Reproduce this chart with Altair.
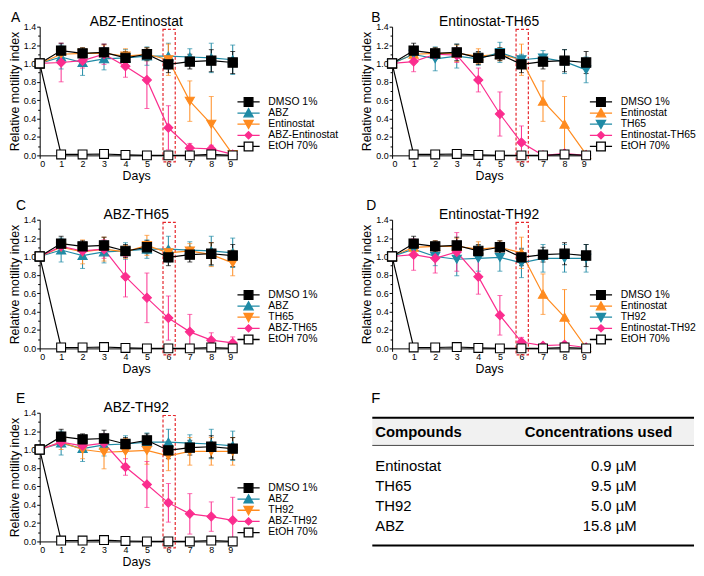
import altair as alt
import pandas as pd

FONT = "Liberation Sans"

DAYS = [0, 1, 2, 3, 4, 5, 6, 7, 8, 9]
Y_TICKS = [0.0, 0.2, 0.4, 0.6, 0.8, 1.0, 1.2, 1.4]
Y_MINOR = [0.1, 0.3, 0.5, 0.7, 0.9, 1.1, 1.3]

DMSO = [1.00, 1.14, 1.11, 1.12, 1.06, 1.10, 0.99, 1.02, 1.03, 1.01]
DMSO_ERR = [0.0, 0.08, 0.06, 0.09, 0.07, 0.07, 0.09, 0.08, 0.12, 0.12]
ABZ = [1.00, 1.07, 1.01, 1.05, 1.06, 1.08, 1.08, 1.07, 1.06, 1.04]
ABZ_ERR = [0.0, 0.13, 0.14, 0.12, 0.09, 0.10, 0.14, 0.09, 0.16, 0.16]
ENT = [1.00, 1.10, 1.11, 1.11, 1.08, 1.10, 1.04, 0.59, 0.34, 0.01]
ENT_ERR = [0.0, 0.08, 0.06, 0.09, 0.08, 0.07, 0.17, 0.22, 0.30, 0.0]
TH65 = [1.00, 1.10, 1.05, 1.08, 1.05, 1.12, 1.04, 1.06, 1.02, 0.93]
TH65_ERR = [0.0, 0.06, 0.13, 0.13, 0.07, 0.11, 0.06, 0.08, 0.13, 0.14]
TH92 = [1.00, 1.08, 1.00, 0.97, 0.98, 0.99, 0.93, 0.98, 0.98, 0.98]
TH92_ERR = [0.0, 0.08, 0.10, 0.18, 0.14, 0.15, 0.16, 0.15, 0.15, 0.15]
ABZ_ENT = [1.00, 1.01, 1.03, 1.10, 0.97, 0.82, 0.30, 0.08, 0.07, 0.01]
ABZ_ENT_ERR = [0.0, 0.21, 0.08, 0.11, 0.12, 0.31, 0.24, 0.05, 0.04, 0.0]
ENT_TH65 = [1.00, 1.02, 1.10, 1.09, 0.82, 0.45, 0.14, 0.00, 0.02, 0.00]
ENT_TH65_ERR = [0.0, 0.11, 0.05, 0.08, 0.13, 0.24, 0.18, 0.01, 0.02, 0.0]
ABZ_TH65 = [1.00, 1.11, 1.06, 1.08, 0.78, 0.55, 0.33, 0.18, 0.09, 0.06]
ABZ_TH65_ERR = [0.0, 0.06, 0.06, 0.10, 0.22, 0.27, 0.24, 0.19, 0.08, 0.065]
ENT_TH92 = [1.00, 1.02, 0.98, 1.05, 0.78, 0.36, 0.07, 0.03, 0.04, 0.01]
ENT_TH92_ERR = [0.0, 0.17, 0.16, 0.21, 0.19, 0.215, 0.05, 0.02, 0.03, 0.01]
ABZ_TH92 = [1.00, 1.08, 1.04, 1.07, 0.81, 0.62, 0.42, 0.30, 0.27, 0.23]
ABZ_TH92_ERR = [0.0, 0.05, 0.07, 0.10, 0.09, 0.25, 0.21, 0.22, 0.16, 0.25]
ETOH = [1.00, 0.01, 0.01, 0.015, 0.005, 0.0, 0.0, 0.0, 0.01, 0.0]
ETOH_ERR = [0.0, 0.0, 0.0, 0.0, 0.0, 0.0, 0.0, 0.0, 0.0, 0.0]

COMPOUNDS = ["Entinostat", "TH65", "TH92", "ABZ"]
CONCENTRATIONS = ["0.9 \u00b5M", "9.5 \u00b5M", "5.0 \u00b5M", "15.8 \u00b5M"]
TABLE_HEADERS = ["Compounds", "Concentrations used"]

HIGHLIGHT_DAY = [6]

BLACK = "#000000"
TEAL = "#1f8aa5"
ORANGE = "#ff8b1f"
PINK = "#fb2d8e"
RED = "#e5262b"

# legend glyphs (unit = sqrt(64)/2 = 4 px)
LEG_SQ = "M-2.8,0H-1.1M1.1,0H2.8M-1.1,-1.1H1.1V1.1H-1.1Z"
LEG_UP = "M-2.8,0H2.8M0,-1.1L1.15,0.95L-1.15,0.95Z"
LEG_DN = "M-2.8,0H2.8M0,1.1L1.15,-0.95L-1.15,-0.95Z"
LEG_DI = "M-2.8,0H2.8M-0.9,0L0,-0.9L0.9,0L0,0.9Z"

ROLE = {
    "ctrl": dict(shape="square", size=88, hollow=False, leg=LEG_SQ, z=3),
    "up": dict(shape="triangle-up", size=80, hollow=False, leg=LEG_UP, z=0),
    "down": dict(shape="triangle-down", size=80, hollow=False, leg=LEG_DN, z=1),
    "combo": dict(shape="diamond", size=55, hollow=False, leg=LEG_DI, z=2),
    "etoh": dict(shape="square", size=78, hollow=True, leg=LEG_SQ, z=4),
}

W, H = 195, 130
WB = 196


def panel(letter, title, series, width, letter_dx, letter_dy):
    names = [s[0] for s in series]
    colors = [s[3] for s in series]
    fills = ["#ffffff" if ROLE[s[4]]["hollow"] else s[3] for s in series]
    shapes = [ROLE[s[4]]["shape"] for s in series]
    sizes = [ROLE[s[4]]["size"] for s in series]
    paths = [ROLE[s[4]]["leg"] for s in series]
    recs = []
    for name, vals, errs, color, role in series:
        for d, v, e in zip(DAYS, vals, errs):
            recs.append({"series": name, "day": d, "v": v, "err": e,
                         "lo": v - e, "hi": v + e, "z": ROLE[role]["z"]})
    df = pd.DataFrame(recs).sort_values(["z", "day"], kind="stable")
    base = alt.Chart(df)
    errdf = df[df["err"] > 0]
    ebase = alt.Chart(errdf)

    xs = alt.Scale(domain=[0, 9], nice=False, zero=False)
    ys = alt.Scale(domain=[0, 1.4], nice=False)
    xax = alt.Axis(values=DAYS, title="Days", format="d", titlePadding=1, labelPadding=1)
    yax = alt.Axis(values=Y_TICKS, title="Relative motility index", format=".1f",
                   titlePadding=2, labelPadding=1, orient="left")
    ymin = alt.Axis(values=Y_MINOR, title=None, labels=False, domain=False,
                    tickSize=2, orient="left")

    col = alt.Color("series:N", scale=alt.Scale(domain=names, range=colors), legend=None)

    box = pd.DataFrame({"x": [d - 0.25 for d in HIGHLIGHT_DAY],
                        "x2": [d + 0.32 for d in HIGHLIGHT_DAY],
                        "y": [-0.07], "y2": [1.37]})
    rect = alt.Chart(box).mark_rect(fillOpacity=0, stroke=RED, strokeDash=[3, 2],
                                    strokeWidth=1.2).encode(
        x=alt.X("x:Q", scale=xs, axis=xax), x2="x2:Q",
        y=alt.Y("y:Q", scale=ys, axis=ymin), y2="y2:Q")

    rules = ebase.mark_rule(strokeWidth=1).encode(
        x=alt.X("day:Q", scale=xs, axis=xax),
        y=alt.Y("lo:Q", scale=ys, axis=None), y2="hi:Q", color=col)
    cap_lo = ebase.mark_tick(orient="horizontal", size=5, thickness=1).encode(
        x=alt.X("day:Q", scale=xs, axis=xax),
        y=alt.Y("lo:Q", scale=ys, axis=None), color=col)
    cap_hi = ebase.mark_tick(orient="horizontal", size=5, thickness=1).encode(
        x=alt.X("day:Q", scale=xs, axis=xax),
        y=alt.Y("hi:Q", scale=ys, axis=None), color=col)
    lines = base.mark_line(strokeWidth=1.2).encode(
        x=alt.X("day:Q", scale=xs, axis=xax),
        y=alt.Y("v:Q", scale=ys, axis=None), color=col, detail="series:N")
    pts = base.mark_point(filled=True, opacity=1, strokeWidth=1.1).encode(
        x=alt.X("day:Q", scale=xs, axis=xax),
        y=alt.Y("v:Q", scale=ys, axis=yax),
        shape=alt.Shape("series:N", scale=alt.Scale(domain=names, range=shapes), legend=None),
        fill=alt.Fill("series:N", scale=alt.Scale(domain=names, range=fills), legend=None),
        stroke=alt.Stroke("series:N", scale=alt.Scale(domain=names, range=colors), legend=None),
        size=alt.Size("series:N", scale=alt.Scale(domain=names, range=sizes), legend=None),
    )

    # legend drawn as its own layer: one row per series on a point scale
    legdf = pd.DataFrame({"series": names})
    leg_y = alt.Y("series:N", scale=alt.Scale(type="point", domain=names, range=[76, 121],
                                              padding=0), axis=None)
    leg_sym = alt.Chart(legdf).mark_point(filled=True, opacity=1, strokeWidth=1.3,
                                          size=64).encode(
        x=alt.value(211), y=leg_y,
        shape=alt.Shape("series:N", scale=alt.Scale(domain=names, range=paths), legend=None),
        fill=alt.Fill("series:N", scale=alt.Scale(domain=names, range=fills), legend=None),
        stroke=alt.Stroke("series:N", scale=alt.Scale(domain=names, range=colors), legend=None),
    )
    leg_txt = alt.Chart(legdf).mark_text(font=FONT, fontSize=10.5, align="left",
                                         baseline="middle", color="black").encode(
        x=alt.value(231), y=leg_y, text="series:N")

    lab = alt.Chart(pd.DataFrame({"t": [letter]})).mark_text(
        font=FONT, fontSize=14, align="left", baseline="alphabetic", color="black").encode(
        text="t:N", x=alt.value(letter_dx), y=alt.value(letter_dy))
    ttl = alt.Chart(pd.DataFrame({"t": [title]})).mark_text(
        font=FONT, fontSize=14, align="center", baseline="alphabetic", color="black").encode(
        text="t:N", x=alt.value(width / 2), y=alt.value(-1))

    layer = alt.layer(rect, rules, cap_lo, cap_hi, lines, pts, leg_sym, leg_txt, lab,
                      ttl).resolve_scale(
        color="independent", fill="independent", stroke="independent",
        shape="independent", size="independent", y="independent").resolve_axis(
        y="independent")
    return layer.properties(width=width, height=H)


def table_panel():
    tdf = pd.DataFrame({"compound": COMPOUNDS, "conc": CONCENTRATIONS})
    ys = alt.Scale(type="point", domain=COMPOUNDS, range=[54, 114], padding=0)
    hdr = pd.DataFrame({"h": TABLE_HEADERS})
    bg = alt.Chart(pd.DataFrame({"k": [0]})).mark_rect(color="#f1f1f1").encode(
        x=alt.value(-20), x2=alt.value(305), y=alt.value(5), y2=alt.value(33))
    top = alt.Chart(pd.DataFrame({"k": [0]})).mark_rule(color="black", strokeWidth=2).encode(
        x=alt.value(-20), x2=alt.value(305), y=alt.value(5))
    mid = alt.Chart(pd.DataFrame({"k": [0]})).mark_rule(color="#444444", strokeWidth=1).encode(
        x=alt.value(-20), x2=alt.value(305), y=alt.value(33))
    bot = alt.Chart(pd.DataFrame({"k": [0]})).mark_rule(color="black", strokeWidth=2).encode(
        x=alt.value(-20), x2=alt.value(305), y=alt.value(134))
    h1 = alt.Chart(hdr.iloc[[0]]).mark_text(font=FONT, fontSize=15, fontWeight="bold",
                                           align="left", baseline="middle", color="black").encode(
        text="h:N", x=alt.value(-17), y=alt.value(19))
    h2 = alt.Chart(hdr.iloc[[1]]).mark_text(font=FONT, fontSize=15, fontWeight="bold",
                                           align="left", baseline="middle", color="black").encode(
        text="h:N", x=alt.value(134), y=alt.value(19))
    names = alt.Chart(tdf).mark_text(font=FONT, fontSize=15, align="left", baseline="middle",
                                     color="black").encode(
        text="compound:N", x=alt.value(-17), y=alt.Y("compound:N", scale=ys, axis=None))
    concs = alt.Chart(tdf).mark_text(font=FONT, fontSize=15, align="right", baseline="middle",
                                     color="black").encode(
        text="conc:N", x=alt.value(247), y=alt.Y("compound:N", scale=ys, axis=None))
    lab = alt.Chart(pd.DataFrame({"t": ["F"]})).mark_text(
        font=FONT, fontSize=15, align="left", baseline="alphabetic", color="black").encode(
        text="t:N", x=alt.value(-21), y=alt.value(-10))
    return alt.layer(bg, top, mid, bot, h1, h2, names, concs, lab).properties(width=WB, height=H)


A = panel("A", "ABZ-Entinostat", [
    ("DMSO 1%", DMSO, DMSO_ERR, BLACK, "ctrl"),
    ("ABZ", ABZ, ABZ_ERR, TEAL, "up"),
    ("Entinostat", ENT, ENT_ERR, ORANGE, "down"),
    ("ABZ-Entinostat", ABZ_ENT, ABZ_ENT_ERR, PINK, "combo"),
    ("EtOH 70%", ETOH, ETOH_ERR, BLACK, "etoh")], W, -29, -5)
B = panel("B", "Entinostat-TH65", [
    ("DMSO 1%", DMSO, DMSO_ERR, BLACK, "ctrl"),
    ("Entinostat", ENT, ENT_ERR, ORANGE, "up"),
    ("TH65", TH65, TH65_ERR, TEAL, "down"),
    ("Entinostat-TH65", ENT_TH65, ENT_TH65_ERR, PINK, "combo"),
    ("EtOH 70%", ETOH, ETOH_ERR, BLACK, "etoh")], WB, -21, -5)
C = panel("C", "ABZ-TH65", [
    ("DMSO 1%", DMSO, DMSO_ERR, BLACK, "ctrl"),
    ("ABZ", ABZ, ABZ_ERR, TEAL, "up"),
    ("TH65", TH65, TH65_ERR, ORANGE, "down"),
    ("ABZ-TH65", ABZ_TH65, ABZ_TH65_ERR, PINK, "combo"),
    ("EtOH 70%", ETOH, ETOH_ERR, BLACK, "etoh")], W, -24, -10)
D = panel("D", "Entinostat-TH92", [
    ("DMSO 1%", DMSO, DMSO_ERR, BLACK, "ctrl"),
    ("Entinostat", ENT, ENT_ERR, ORANGE, "up"),
    ("TH92", TH92, TH92_ERR, TEAL, "down"),
    ("Entinostat-TH92", ENT_TH92, ENT_TH92_ERR, PINK, "combo"),
    ("EtOH 70%", ETOH, ETOH_ERR, BLACK, "etoh")], WB, -26, -10)
E = panel("E", "ABZ-TH92", [
    ("DMSO 1%", DMSO, DMSO_ERR, BLACK, "ctrl"),
    ("ABZ", ABZ, ABZ_ERR, TEAL, "up"),
    ("TH92", TH92, TH92_ERR, ORANGE, "down"),
    ("ABZ-TH92", ABZ_TH92, ABZ_TH92_ERR, PINK, "combo"),
    ("EtOH 70%", ETOH, ETOH_ERR, BLACK, "etoh")], W, -24, -10)
F = table_panel()

chart = alt.concat(A, B, C, D, E, F, columns=2, spacing={"row": 65, "column": 161},
                   bounds="flush").resolve_scale(
    color="independent", fill="independent", stroke="independent",
    shape="independent", size="independent", y="independent", x="independent"
).properties(padding=0).configure_view(stroke=None).configure_axis(
    domainColor="black", tickColor="black", labelColor="black", titleColor="black",
    labelFont=FONT, titleFont=FONT, labelFontSize=9, titleFontSize=12.5,
    titleFontWeight="normal", tickSize=3, grid=False, domainWidth=1, tickWidth=1
)

chart.save("out.html", embed_options={"renderer": "svg", "actions": False})
